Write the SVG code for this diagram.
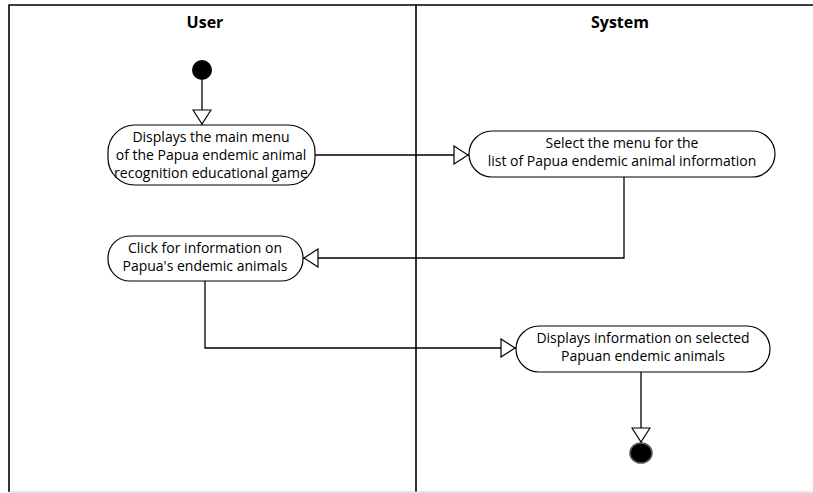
<svg xmlns="http://www.w3.org/2000/svg" width="813" height="493" viewBox="0 0 813 493">
<style>
.frame{fill:none;stroke:#000;stroke-width:1.6}
.node{fill:#fff;stroke:#000;stroke-width:1.2}
.t{font-family:"Open Sans","Liberation Sans",sans-serif;font-size:14px;fill:#000;text-anchor:middle}
.h{font-family:"Open Sans","Liberation Sans",sans-serif;font-size:16px;font-weight:bold;fill:#000;text-anchor:middle}
.c{fill:none;stroke:#000;stroke-width:1.3}
</style>
<defs>
<marker id="arr" viewBox="0 0 16 20" refX="16" refY="10" markerWidth="16" markerHeight="20" markerUnits="userSpaceOnUse" orient="auto">
<path d="M1,1 L15,10 L1,19 Z" fill="#fff" stroke="#000" stroke-width="1.2"/>
</marker>
</defs>
<rect x="0" y="0" width="813" height="493" fill="#fff"/>
<g id="lanes">
<path class="frame" d="M9,492 V5 H813"/>
<line class="frame" x1="416" y1="5" x2="416" y2="492"/>
<line x1="9" y1="492" x2="813" y2="492" stroke="#ccc" stroke-width="1"/>
<text class="h" x="205" y="28">User</text>
<text class="h" x="620" y="28">System</text>
</g>
<g id="connectors">
<path class="c" d="M202,80 V125" marker-end="url(#arr)"/>
<path class="c" d="M315,155 H469" marker-end="url(#arr)"/>
<path class="c" d="M624,177 V258 H303" marker-end="url(#arr)"/>
<path class="c" d="M205,281 V348 H516" marker-end="url(#arr)"/>
<path class="c" d="M641,372 V443" marker-end="url(#arr)"/>
</g>
<g id="start"><circle cx="202" cy="70" r="10" fill="#000"/></g>
<g id="n1">
<rect class="node" x="108" y="125" width="207" height="60" rx="27" ry="27"/>
<text class="t" x="211" y="142">Displays the main menu</text>
<text class="t" x="211" y="160">of the Papua endemic animal</text>
<text class="t" x="211" y="178">recognition educational game</text>
</g>
<g id="n2">
<rect class="node" x="469" y="131" width="306" height="46" rx="23" ry="23"/>
<text class="t" x="622" y="148">Select the menu for the</text>
<text class="t" x="622" y="166">list of Papua endemic animal information</text>
</g>
<g id="n3">
<rect class="node" x="108" y="236" width="195" height="45" rx="22" ry="22"/>
<text class="t" x="205" y="253">Click for information on</text>
<text class="t" x="205" y="271">Papua's endemic animals</text>
</g>
<g id="n4">
<rect class="node" x="516" y="326" width="254" height="46" rx="23" ry="23"/>
<text class="t" x="643" y="343">Displays information on selected</text>
<text class="t" x="643" y="361">Papuan endemic animals</text>
</g>
<g id="end"><ellipse cx="641" cy="453" rx="11" ry="10" fill="#000" stroke="#555" stroke-width="1.5"/></g>
</svg>
